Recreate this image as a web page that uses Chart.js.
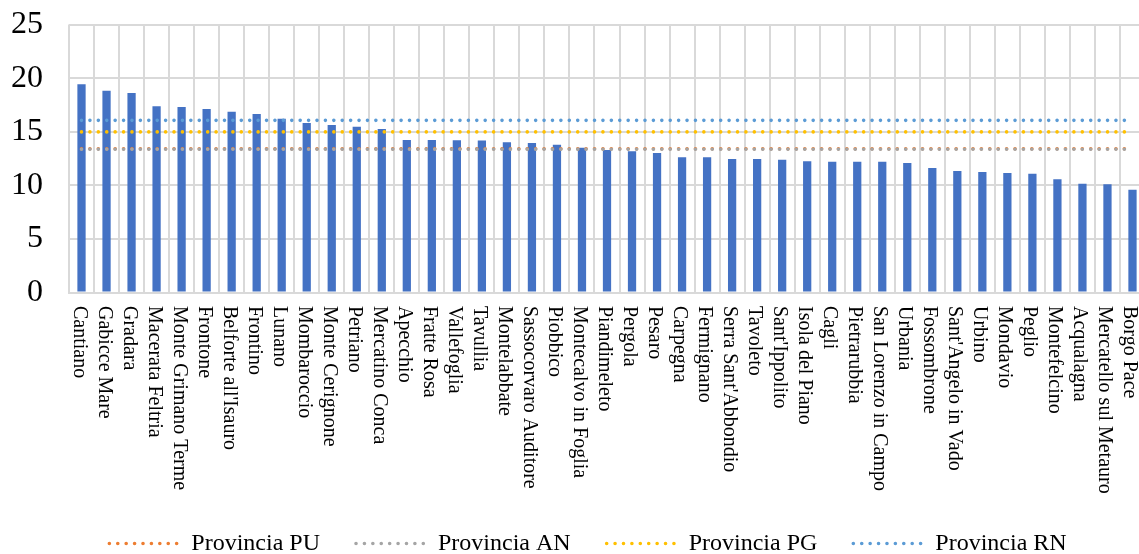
<!DOCTYPE html>
<html lang="it">
<head>
<meta charset="utf-8">
<title>Comuni della provincia di Pesaro e Urbino</title>
<script src="https://cdn.jsdelivr.net/npm/chart.js@4.4.1/dist/chart.umd.min.js"></script>
<style>
  html, body { margin: 0; padding: 0; background: #ffffff; overflow: hidden; }
  #grafico { display: block; }
</style>
</head>
<body>
<canvas id="grafico" width="1176" height="554"></canvas>
<script>
// Comuni, in ordine decrescente di valore
const comuni = [
  'Cantiano', 'Gabicce Mare', 'Gradara', 'Macerata Feltria', 'Monte Grimano Terme',
  'Frontone', "Belforte all'Isauro", 'Frontino', 'Lunano', 'Mombaroccio',
  'Monte Cerignone', 'Petriano', 'Mercatino Conca', 'Apecchio', 'Fratte Rosa',
  'Vallefoglia', 'Tavullia', 'Montelabbate', 'Sassocorvaro Auditore', 'Piobbico',
  'Montecalvo in Foglia', 'Piandimeleto', 'Pergola', 'Pesaro', 'Carpegna',
  'Fermignano', "Serra Sant'Abbondio", 'Tavoleto', "Sant'Ippolito", 'Isola del Piano',
  'Cagli', 'Pietrarubbia', 'San Lorenzo in Campo', 'Urbania', 'Fossombrone',
  "Sant'Angelo in Vado", 'Urbino', 'Mondavio', 'Peglio', 'Montefelcino',
  'Acqualagna', 'Mercatello sul Metauro', 'Borgo Pace'
];

const valoriComuni = [
  19.42, 18.83, 18.61, 17.37, 17.30,
  17.12, 16.87, 16.65, 16.21, 15.81,
  15.63, 15.47, 15.25, 14.23, 14.23,
  14.20, 14.17, 14.01, 13.95, 13.79,
  13.51, 13.29, 13.17, 13.01, 12.61,
  12.61, 12.45, 12.45, 12.39, 12.24,
  12.20, 12.20, 12.20, 12.08, 11.61,
  11.33, 11.24, 11.15, 11.08, 10.56,
  10.15, 10.09, 9.59
];

// Valori medi provinciali
const province = ['Provincia PU', 'Provincia AN', 'Provincia PG', 'Provincia RN'];
const valoriProvince = [13.40, 13.36, 14.98, 16.06];
const coloriProvince = ['#ED7D31', '#A5A5A5', '#FFC000', '#5B9BD5'];

const tickAsseY = [0, 5, 10, 15, 20, 25];

const fontSerif = '"Liberation Serif", "Times New Roman", "DejaVu Serif", serif';
const tratteggio = [0.01, 8.4];

// Linea orizzontale dal primo all'ultimo comune
function lineaProvincia(i) {
  return {
    type: 'line',
    label: province[i],
    data: [
      { x: comuni[0], y: valoriProvince[i] },
      { x: comuni[comuni.length - 1], y: valoriProvince[i] }
    ],
    borderColor: coloriProvince[i],
    backgroundColor: 'rgba(0,0,0,0)',
    borderWidth: 3.6,
    borderDash: tratteggio,
    borderCapStyle: 'round',
    pointRadius: 0,
    fill: false,
    order: 0
  };
}

// Le linee vengono disegnate dall'ultima alla prima: RN resta in primo piano
const lineeProvince = [3, 2, 1, 0].map(lineaProvincia);

// Etichette dei comuni, ruotate e lette dall'alto verso il basso
const etichetteVerticali = {
  id: 'etichetteVerticali',
  afterDraw(chart) {
    const sc = chart.scales.x;
    const ctx = chart.ctx;
    ctx.save();
    ctx.font = '20px ' + fontSerif;
    ctx.fillStyle = '#000000';
    ctx.textAlign = 'left';
    ctx.textBaseline = 'alphabetic';
    comuni.forEach((nome, i) => {
      const x = sc.getPixelForTick(i);
      ctx.save();
      ctx.translate(x, chart.chartArea.bottom + 13.5);
      ctx.rotate(Math.PI / 2);
      ctx.fillText(nome, 0, 8);
      ctx.restore();
    });
    ctx.restore();
  }
};

const ctx = document.getElementById('grafico').getContext('2d');
new Chart(ctx, {
  type: 'bar',
  data: {
    labels: comuni,
    datasets: [
      ...lineeProvince,
      {
        type: 'bar',
        label: 'Comuni',
        data: valoriComuni,
        backgroundColor: '#4472C4',
        borderWidth: 0,
        barPercentage: 0.33,
        categoryPercentage: 1,
        order: 1
      }
    ]
  },
  options: {
    responsive: false,
    animation: false,
    devicePixelRatio: 1,
    layout: { padding: { top: 24.5, left: 0, right: 0, bottom: -11.5 } },
    plugins: {
      tooltip: { enabled: false },
      legend: {
        position: 'bottom',
        align: 'center',
        labels: {
          usePointStyle: true,
          pointStyle: 'line',
          pointStyleWidth: 70,
          padding: 36,
          color: '#000000',
          font: { family: fontSerif, size: 24 },
          generateLabels(chart) {
            return province.map((nome, i) => ({
              text: nome,
              datasetIndex: 3 - i,
              fillStyle: 'rgba(0,0,0,0)',
              strokeStyle: coloriProvince[i],
              lineWidth: 3.6,
              lineDash: tratteggio,
              lineCap: 'round',
              pointStyle: 'line',
              fontColor: '#000000',
              hidden: false
            }));
          }
        }
      }
    },
    scales: {
      x: {
        offset: true,
        grid: { color: '#D9D9D9', lineWidth: 2, offset: true, drawTicks: false },
        border: { color: '#D9D9D9', width: 2 },
        ticks: { display: false },
        afterFit(scale) { scale.height = 203; }
      },
      y: {
        min: 0,
        max: 25,
        afterBuildTicks(scale) { scale.ticks = tickAsseY.map(v => ({ value: v })); },
        grid: { color: '#D9D9D9', lineWidth: 2, drawTicks: false },
        border: { display: false },
        ticks: {
          padding: 26,
          color: '#000000',
          font: { family: fontSerif, size: 32 }
        },
        afterFit(scale) {
          scale.width = 69;
          scale.paddingTop = 0;
          scale.paddingBottom = 0;
        }
      },
      margineDestro: {
        type: 'linear',
        position: 'right',
        grid: { drawOnChartArea: false, drawTicks: false },
        border: { display: false },
        ticks: { display: false },
        afterFit(scale) { scale.width = 31; }
      }
    }
  },
  plugins: [etichetteVerticali]
});
</script>
</body>
</html>
